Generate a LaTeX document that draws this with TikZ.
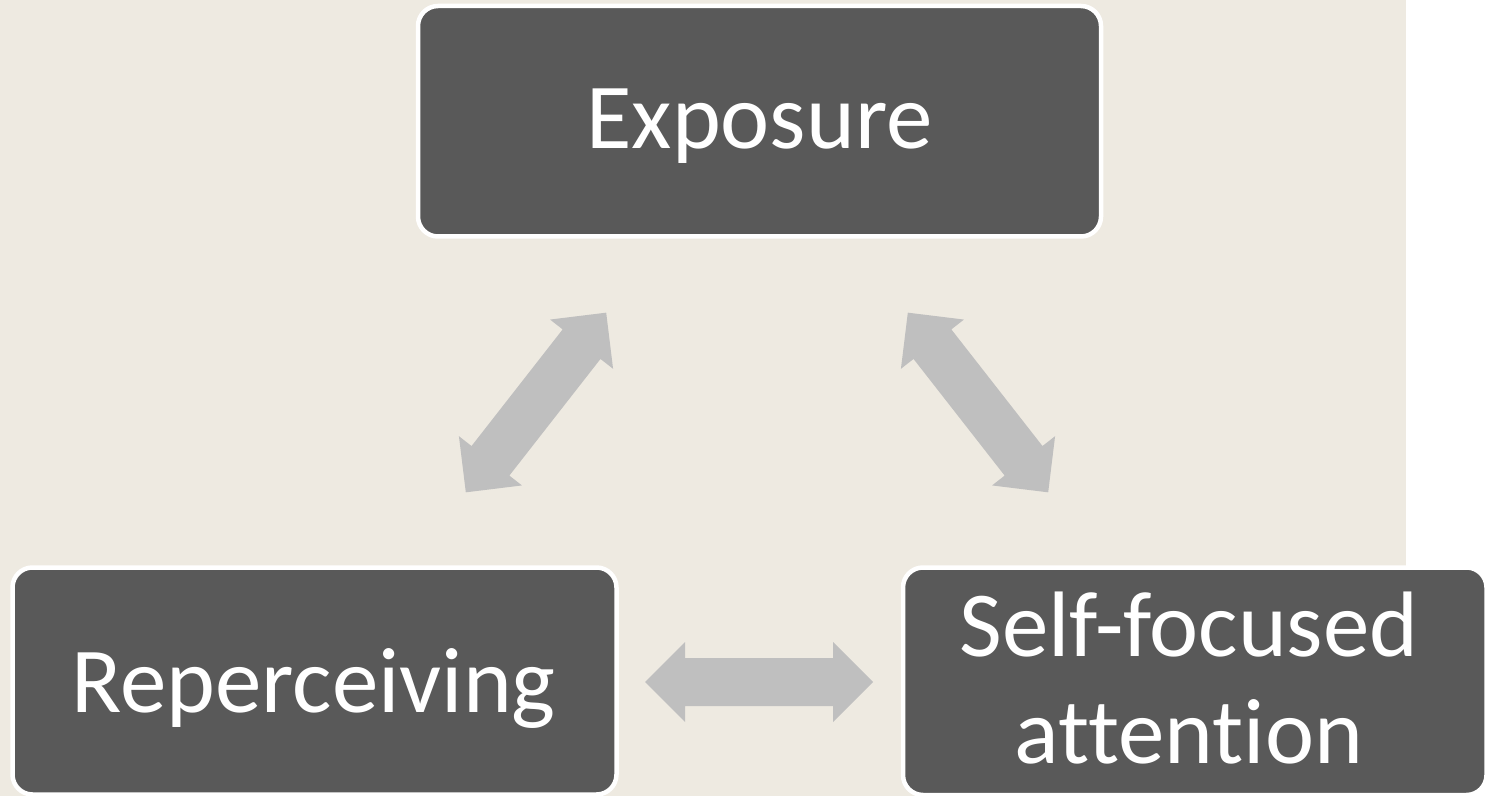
\documentclass[tikz,border=0pt]{standalone}
\usepackage{fontspec}
\setmainfont{Carlito}[Ligatures={NoCommon,NoRare}]
\definecolor{panel}{HTML}{EEEAE1}
\definecolor{boxfill}{HTML}{595959}
\definecolor{arrowgray}{HTML}{BFBFBF}
\tikzset{
  box/.style={rounded corners=20pt, fill=boxfill, draw=white, line width=4.5pt,
    inner sep=0pt},
  lbl/.style={text=white, font=\fontsize{93}{107}\selectfont, inner sep=0pt,
    anchor=base},
  dblarrow/.pic={
    \fill[arrowgray] (-114,0) -- (-74,40) -- (-74,24) -- (74,24) -- (74,40)
      -- (114,0) -- (74,-40) -- (74,-24) -- (-74,-24) -- (-74,-40) -- cycle;
  }
}
\begin{document}
\begin{tikzpicture}[x=1pt,y=1pt]
  % canvas and panel
  \useasboundingbox (0,0) rectangle (1488,796);
  \fill[white] (0,0) rectangle (1488,796);
  \fill[panel] (0,0) rectangle (1406,796);

  % the three stages
  \node[box, minimum width=683pt, minimum height=230.5pt] (exposure) at (759.5,674.75) {};
  \node[box, minimum width=604pt, minimum height=227pt] (reperc) at (314.5,115) {};
  \node[box, minimum width=583.5pt, minimum height=227.5pt] (selfatt) at (1194.75,114.75) {};

  \node[lbl] (exposureT) at (759.5,647) {Exposure};
  \node[lbl] (repercT) at (313.5,84) {Reperceiving};
  \node[lbl] (selfattT1) at (1189,140) {Self-focused};
  \node[lbl] (selfattT2) at (1189,33) {attention};

  % two-way links between the stages
  \pic[rotate=52] (linkL) at (536,393.5) {dblarrow};
  \pic[rotate=128] (linkR) at (978,393.5) {dblarrow};
  \pic (linkB) at (759,114) {dblarrow};
\end{tikzpicture}
\end{document}
